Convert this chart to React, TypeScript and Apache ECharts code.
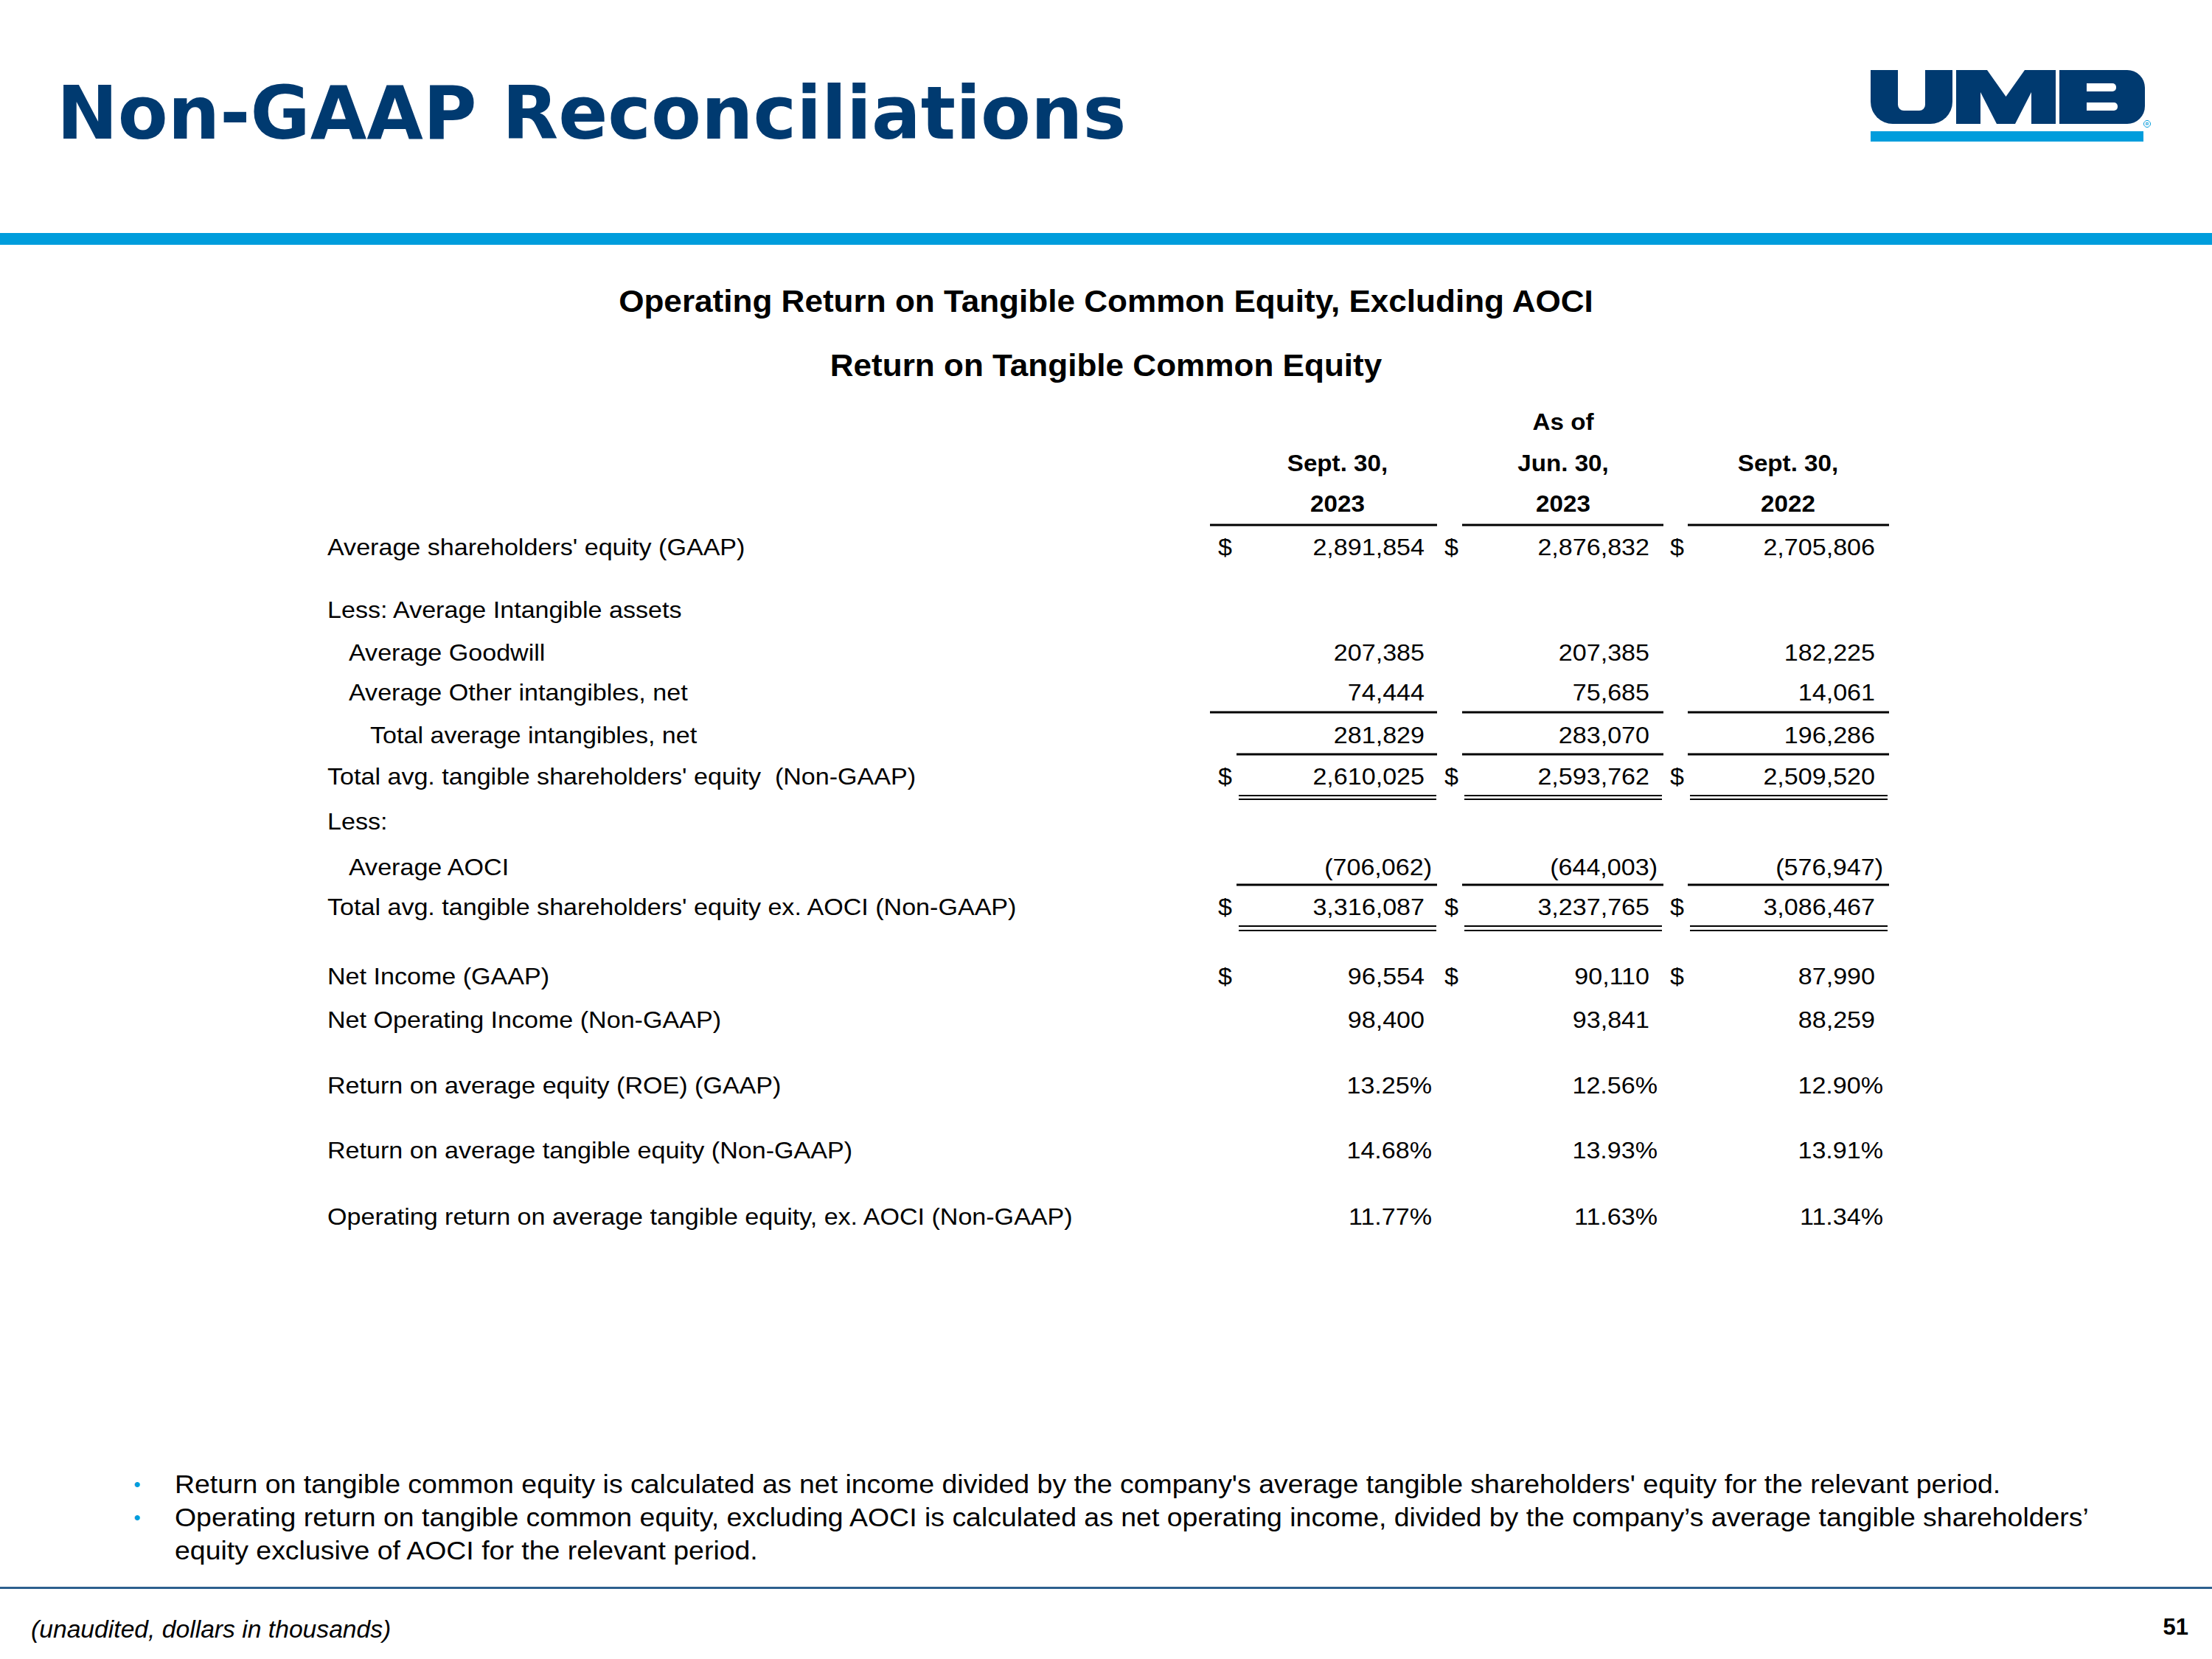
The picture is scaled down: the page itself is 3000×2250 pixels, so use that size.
import React, { useEffect, useRef } from "react";
import * as echarts from "echarts";

// ---------- Data ----------
const pageTitle = "Non-GAAP Reconciliations";
const subtitle1 = "Operating Return on Tangible Common Equity, Excluding AOCI";
const subtitle2 = "Return on Tangible Common Equity";
const headerTop = "As of";
const headerDates = ["Sept. 30,", "Jun. 30,", "Sept. 30,"];
const headerYears = ["2023", "2023", "2022"];

const rowLabels = [
  "Average shareholders' equity (GAAP)",
  "Less: Average Intangible assets",
  "Average Goodwill",
  "Average Other intangibles, net",
  "Total average intangibles, net",
  "Total avg. tangible shareholders' equity  (Non-GAAP)",
  "Less:",
  "Average AOCI",
  "Total avg. tangible shareholders' equity ex. AOCI (Non-GAAP)",
  "Net Income (GAAP)",
  "Net Operating Income (Non-GAAP)",
  "Return on average equity (ROE) (GAAP)",
  "Return on average tangible equity (Non-GAAP)",
  "Operating return on average tangible equity, ex. AOCI (Non-GAAP)",
];

const avgEquity = [2891854, 2876832, 2705806];
const avgGoodwill = [207385, 207385, 182225];
const avgOtherIntangibles = [74444, 75685, 14061];
const totalIntangibles = [281829, 283070, 196286];
const tangibleEquity = [2610025, 2593762, 2509520];
const avgAOCI = [-706062, -644003, -576947];
const tangibleEquityExAOCI = [3316087, 3237765, 3086467];
const netIncome = [96554, 90110, 87990];
const netOperatingIncome = [98400, 93841, 88259];
const roe = [13.25, 12.56, 12.9];
const rote = [14.68, 13.93, 13.91];
const opRoteExAOCI = [11.77, 11.63, 11.34];

const footnotes = [
  ["Return on tangible common equity is calculated as net income divided by the company's average tangible shareholders' equity for the relevant period."],
  [
    "Operating return on tangible common equity, excluding AOCI is calculated as net operating income, divided by the company\u2019s average tangible shareholders\u2019",
    "equity exclusive of AOCI for the relevant period.",
  ],
];
const footerNote = "(unaudited, dollars in thousands)";
const pageNumber = "51";

// ---------- Layout / style ----------
const W = 3000;
const H = 2250;
const NAVY = "#003A70";
const SKY = "#009DDC";
const SANS = '"Liberation Sans", Arial, Helvetica, sans-serif';
const BODY_FONT = `32px ${SANS}`;
const BODY_SX = 1.065;

const LABEL_X = 444;
const INDENT = 29;
const DOLLAR_X = [1652, 1959, 2265];
const NUM_RIGHT = [1932, 2237, 2543];
const PAREN_RIGHT = [1942, 2248, 2554];
const HEAD_CX = [1814, 2120, 2425];
const SPAN_FULL = [[1641, 1949], [1983, 2256], [2289, 2562]];
const SPAN_PART = [[1677, 1949], [1983, 2256], [2289, 2562]];
const SPAN_DBL = [[1680, 1948], [1986, 2254], [2292, 2560]];

type Row = {
  label: string;
  y: number;
  indent: number;
  values?: number[];
  pct?: boolean;
  dollar?: boolean;
  single?: { y: number; spans: number[][] };
  double?: { y1: number; y2: number; spans: number[][] };
};

const rows: Row[] = [
  { label: rowLabels[0], y: 742, indent: 0, values: avgEquity, dollar: true },
  { label: rowLabels[1], y: 827, indent: 0 },
  { label: rowLabels[2], y: 885, indent: 1, values: avgGoodwill },
  { label: rowLabels[3], y: 939, indent: 1, values: avgOtherIntangibles, single: { y: 966, spans: SPAN_FULL } },
  { label: rowLabels[4], y: 997, indent: 2, values: totalIntangibles, single: { y: 1023, spans: SPAN_PART } },
  { label: rowLabels[5], y: 1053, indent: 0, values: tangibleEquity, dollar: true, double: { y1: 1079, y2: 1084, spans: SPAN_DBL } },
  { label: rowLabels[6], y: 1114, indent: 0 },
  { label: rowLabels[7], y: 1176, indent: 1, values: avgAOCI, single: { y: 1200, spans: SPAN_PART } },
  { label: rowLabels[8], y: 1230, indent: 0, values: tangibleEquityExAOCI, dollar: true, double: { y1: 1256, y2: 1262, spans: SPAN_DBL } },
  { label: rowLabels[9], y: 1324, indent: 0, values: netIncome, dollar: true },
  { label: rowLabels[10], y: 1383, indent: 0, values: netOperatingIncome },
  { label: rowLabels[11], y: 1472, indent: 0, values: roe, pct: true },
  { label: rowLabels[12], y: 1560, indent: 0, values: rote, pct: true },
  { label: rowLabels[13], y: 1650, indent: 0, values: opRoteExAOCI, pct: true },
];

function fmtNum(v: number): string {
  const s = Math.abs(v).toLocaleString("en-US");
  return v < 0 ? `(${s})` : s;
}

function txt(x: number, y: number, text: string, font: string, align = "left", fill = "#000", sx = 1): any {
  return {
    type: "text",
    x,
    y,
    scaleX: sx,
    silent: true,
    style: {
      text,
      font,
      fill,
      textAlign: align,
      textVerticalAlign: "middle",
      align,
      verticalAlign: "middle",
    },
  };
}

function hline(x1: number, x2: number, y: number, w: number, stroke = "#000"): any {
  return { type: "line", silent: true, shape: { x1, y1: y, x2, y2: y }, style: { stroke, lineWidth: w } };
}

function buildElements(): any[] {
  const els: any[] = [];
  // background
  els.push({ type: "rect", shape: { x: 0, y: 0, width: W, height: H }, style: { fill: "#fff" }, silent: true });

  // title
  els.push(txt(77, 153, pageTitle, `bold 99px "DejaVu Sans", ${SANS}`, "left", NAVY));

  // logo
  const lx = 2537;
  const ly = 95;
  els.push({ type: "rect", shape: { x: lx, y: ly, width: 111, height: 73, r: [0, 0, 30, 30] }, style: { fill: NAVY } });
  els.push({ type: "rect", shape: { x: lx + 37, y: ly - 2, width: 37, height: 57, r: [0, 0, 8, 8] }, style: { fill: "#fff" } });
  const mx = 2653;
  const mPts = [
    [0, 0], [42, 0], [67.5, 36], [93, 0], [135, 0], [135, 73], [102, 73], [102, 30],
    [80, 73], [55, 73], [33, 30], [33, 73], [0, 73],
  ].map(([a, b]) => [mx + a, ly + b]);
  els.push({ type: "polygon", shape: { points: mPts }, style: { fill: NAVY } });
  const bx = 2793;
  els.push({ type: "rect", shape: { x: bx, y: ly, width: 116, height: 73, r: [0, 24, 24, 0] }, style: { fill: NAVY } });
  els.push({ type: "rect", shape: { x: bx + 37, y: 113, width: 40, height: 11, r: [0, 5, 5, 0] }, style: { fill: "#fff" } });
  els.push({ type: "rect", shape: { x: bx + 37, y: 139, width: 42, height: 11, r: [0, 5, 5, 0] }, style: { fill: "#fff" } });
  els.push({ type: "rect", shape: { x: 2537, y: 178, width: 370, height: 14 }, style: { fill: SKY } });
  els.push({ type: "circle", shape: { cx: 2912, cy: 168, r: 4.5 }, style: { fill: "none", stroke: SKY, lineWidth: 1 } });
  els.push(txt(2912, 168, "R", `bold 6px ${SANS}`, "center", SKY));

  // blue band
  els.push({ type: "rect", shape: { x: 0, y: 316, width: W, height: 16 }, style: { fill: SKY } });

  // subtitles
  els.push(txt(1500, 408, subtitle1, `bold 42px ${SANS}`, "center", "#000", 1.05));
  els.push(txt(1500, 495, subtitle2, `bold 42px ${SANS}`, "center", "#000", 1.05));

  // header
  const HF = `bold 31px ${SANS}`;
  els.push(txt(HEAD_CX[1], 572, headerTop, HF, "center", "#000", 1.07));
  headerDates.forEach((d, i) => els.push(txt(HEAD_CX[i], 628, d, HF, "center", "#000", 1.07)));
  headerYears.forEach((d, i) => els.push(txt(HEAD_CX[i], 683, d, HF, "center", "#000", 1.07)));
  SPAN_FULL.forEach(([a, b]) => els.push(hline(a, b, 712, 3)));

  // rows
  rows.forEach((r) => {
    els.push(txt(LABEL_X + r.indent * INDENT, r.y, r.label, BODY_FONT, "left", "#000", BODY_SX));
    if (r.values) {
      r.values.forEach((v, i) => {
        if (r.pct) {
          els.push(txt(PAREN_RIGHT[i], r.y, v.toFixed(2) + "%", BODY_FONT, "right", "#000", BODY_SX));
        } else if (v < 0) {
          els.push(txt(PAREN_RIGHT[i], r.y, fmtNum(v), BODY_FONT, "right", "#000", BODY_SX));
        } else {
          els.push(txt(NUM_RIGHT[i], r.y, fmtNum(v), BODY_FONT, "right", "#000", BODY_SX));
        }
        if (r.dollar) els.push(txt(DOLLAR_X[i], r.y, "$", BODY_FONT, "left", "#000", BODY_SX));
      });
    }
    if (r.single) r.single.spans.forEach(([a, b]) => els.push(hline(a, b, r.single!.y, 3)));
    if (r.double)
      r.double.spans.forEach(([a, b]) => {
        els.push(hline(a, b, r.double!.y1, 2));
        els.push(hline(a, b, r.double!.y2, 2));
      });
  });

  // footnotes
  const FN_FONT = `35px ${SANS}`;
  const fnY = [2013, 2058, 2103];
  let li = 0;
  footnotes.forEach((lines) => {
    els.push(txt(186, fnY[li], "\u2022", `26px ${SANS}`, "center", SKY));
    lines.forEach((ln) => {
      els.push(txt(237, fnY[li], ln, FN_FONT, "left", "#000", 1.07));
      li++;
    });
  });

  // footer
  els.push({ type: "rect", shape: { x: 0, y: 2152, width: W, height: 3 }, style: { fill: "#2D5F8E" } });
  els.push(txt(42, 2210, footerNote, `italic 33px ${SANS}`, "left", "#000", 1.02));
  els.push(txt(2968, 2206, pageNumber, `bold 31px ${SANS}`, "right", "#000"));
  return els;
}

export default function App() {
  const ref = useRef<HTMLDivElement>(null);
  useEffect(() => {
    if (!ref.current) return;
    const chart = echarts.init(ref.current, null, { renderer: "svg", width: W, height: H });
    chart.setOption({
      animation: false,
      backgroundColor: "#fff",
      graphic: { elements: buildElements() },
    });
    return () => chart.dispose();
  }, []);
  return <div ref={ref} style={{ position: "fixed", left: 0, top: 0, width: W, height: H, background: "#fff" }} />;
}
